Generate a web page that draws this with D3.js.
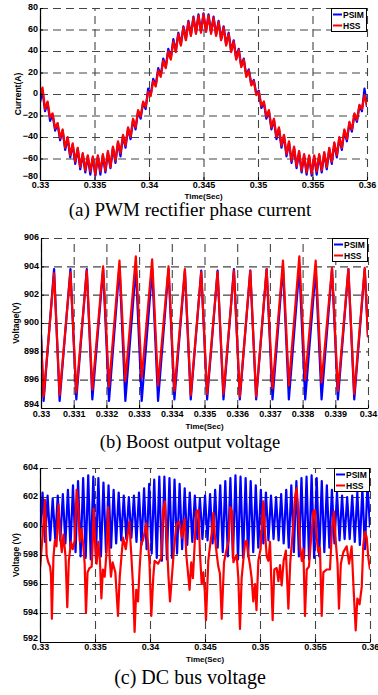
<!DOCTYPE html>
<html>
<head>
<meta charset="utf-8">
<script src="https://cdn.jsdelivr.net/npm/d3@7"></script>
<style>
  body { margin: 0; background: #fff; }
  .tick text { font-family: "Liberation Sans", Arial, sans-serif; font-weight: bold; font-size: 9px; fill: #000; }
  .grid line { stroke: #444; stroke-width: 1.1; stroke-dasharray: 8 5; }
  .grid path { display: none; }
</style>
</head>
<body>
<svg id="chart" width="378" height="695"></svg>
<script>
// uniform sample step of the rippled waveforms (one ripple extreme per sample)
const sampleStep = 0.03 / 130;

// (a) phase current, A
const currentPsim = [
  -8, 3, -16, -8, -25, -19, -34, -28, -43, -34,
  -52, -41, -59, -47, -65, -51, -70, -56, -73, -58,
  -75, -59, -76, -58, -75, -57, -73, -54, -69, -50,
  -64, -45, -58, -39, -50, -32, -42, -24, -33, -16,
  -23, -8, -14, 5, -1, 14, 8, 24, 17, 33,
  25, 42, 33, 51, 40, 57, 46, 63, 51, 68,
  55, 72, 57, 74, 58, 75, 58, 74, 57, 72,
  55, 68, 51, 63, 46, 57, 40, 50, 33, 42,
  26, 33, 17, 23, 9, 13, 0, 3, -13, -8,
  -23, -16, -33, -24, -42, -32, -50, -39, -58, -45,
  -64, -50, -69, -54, -73, -57, -75, -58, -76, -58,
  -75, -57, -73, -55, -70, -51, -65, -46, -59, -41,
  -52, -34, -44, -27, -35, -19, -26, -11, -16, 5,
  -12
];
const currentHss = [
  -1, 6, -14, -7, -22, -18, -32, -27, -41, -33,
  -50, -40, -57, -46, -63, -50, -68, -55, -71, -57,
  -72, -58, -75, -57, -72, -56, -71, -53, -68, -49,
  -62, -44, -55, -38, -48, -31, -40, -23, -31, -15,
  -21, -7, -12, 2, -2, 12, 7, 22, 16, 31,
  24, 40, 32, 49, 39, 56, 45, 62, 50, 67,
  54, 71, 56, 73, 57, 74, 58, 73, 56, 71,
  54, 67, 50, 62, 45, 56, 39, 49, 32, 41,
  25, 32, 16, 22, 8, 12, -1, 2, -11, -7,
  -21, -15, -31, -23, -40, -31, -48, -38, -56, -44,
  -62, -49, -67, -53, -71, -56, -73, -57, -74, -57,
  -72, -56, -71, -54, -68, -50, -63, -45, -57, -40,
  -50, -33, -42, -26, -33, -18, -24, -10, -14, -1,
  -11
];

// (b) boost output voltage, V (troughs and peaks)
const boostTime = [
  0.33, 0.33008, 0.3304, 0.33057, 0.3309, 0.33108, 0.3314, 0.33157, 0.3319, 0.33208,
  0.3324, 0.33258, 0.3329, 0.33308, 0.3334, 0.33358, 0.3339, 0.33408, 0.3344, 0.33458,
  0.3349, 0.33508, 0.3354, 0.33558, 0.3359, 0.33608, 0.3364, 0.33658, 0.3369, 0.33708,
  0.3374, 0.33758, 0.3379, 0.33808, 0.3384, 0.33858, 0.3389, 0.33908, 0.3394, 0.33958,
  0.3399, 0.34
];
const boostPsim = [
  899.2, 894.5, 903.8, 894.5, 903.8, 894.6, 903.8, 894.6, 903.8, 894.5,
  904.0, 894.5, 903.9, 894.5, 903.8, 894.5, 903.8, 894.6, 903.7, 894.6,
  903.7, 894.6, 903.7, 894.6, 903.8, 894.6, 903.7, 894.6, 903.8, 894.6,
  904.0, 894.6, 903.9, 894.6, 903.8, 894.6, 903.8, 894.6, 903.8, 894.6,
  903.8, 899.0
];
const boostHss = [
  898.9, 894.8, 903.5, 894.9, 903.6, 895.1, 903.7, 895.3, 904.0, 895.5,
  904.4, 895.9, 904.7, 896.1, 904.5, 895.6, 904.0, 895.2, 903.8, 894.9,
  903.6, 895.0, 903.6, 895.0, 903.7, 894.8, 903.7, 894.8, 903.8, 895.4,
  904.4, 895.6, 904.7, 896.0, 904.4, 895.8, 903.9, 895.2, 903.8, 895.0,
  903.9, 899.0
];

// (c) DC bus voltage, V
const dcPsim = [
  599.3, 602.3, 598.9, 602.1, 599.0, 601.9, 599.1, 602.1, 599.0, 602.2,
  598.8, 602.5, 598.5, 602.8, 598.2, 603.1, 597.9, 603.3, 597.8, 603.5,
  597.7, 603.4, 597.8, 603.3, 597.9, 603.0, 598.2, 602.8, 598.5, 602.5,
  598.8, 602.3, 599.0, 602.1, 599.1, 602.0, 599.2, 602.1, 598.9, 602.3,
  598.7, 602.6, 598.4, 602.9, 598.1, 603.2, 597.8, 603.4, 597.6, 603.4,
  597.7, 603.3, 597.8, 603.2, 598.1, 602.9, 598.4, 602.6, 598.7, 602.3,
  598.9, 602.1, 599.1, 601.9, 599.1, 602.1, 599.0, 602.2, 598.8, 602.5,
  598.5, 602.8, 598.2, 603.1, 597.9, 603.3, 597.8, 603.5, 597.7, 603.4,
  597.8, 603.3, 597.9, 603.1, 598.2, 602.8, 598.5, 602.5, 598.8, 602.3,
  599.0, 602.1, 599.1, 602.0, 599.0, 602.2, 598.8, 602.5, 598.5, 602.8,
  598.2, 603.1, 597.9, 603.3, 597.8, 603.4, 597.7, 603.5, 597.8, 603.3,
  597.9, 603.1, 598.2, 602.8, 598.5, 602.5, 598.8, 602.3, 599.0, 602.1,
  599.1, 602.0, 599.1, 602.1, 598.9, 602.3, 598.7, 602.6, 598.4, 602.9,
  599.9
];
const dcHss = [
  [0.33, 597.0], [0.33025, 599.5], [0.33045, 601.8], [0.3306, 598.0], [0.33075, 597.5],
  [0.33092, 597.2], [0.331, 596.6], [0.33108, 593.6], [0.33122, 597.8], [0.33135, 599.0],
  [0.3315, 598.6], [0.33168, 601.5], [0.33183, 599.3], [0.33198, 598.2], [0.33213, 599.4],
  [0.33232, 597.9], [0.33248, 594.4], [0.33262, 597.6], [0.33282, 598.9], [0.33298, 598.4],
  [0.33315, 599.0], [0.33333, 602.5], [0.33348, 601.3], [0.33362, 598.9], [0.33378, 599.8],
  [0.33394, 598.6], [0.33406, 597.4], [0.33418, 594.0], [0.33432, 596.8], [0.3345, 597.1],
  [0.3347, 597.2], [0.3348, 599.0], [0.33488, 601.2], [0.335, 599.0],
  [0.33515, 597.4], [0.3353, 598.9], [0.33545, 597.6], [0.33558, 595.0], [0.33572, 597.0],
  [0.33588, 596.5], [0.33605, 598.2], [0.3362, 601.3], [0.33632, 598.0], [0.33645, 596.5],
  [0.3366, 597.5], [0.33685, 596.8], [0.33709, 593.8], [0.33725, 596.5], [0.33755, 599.2],
  [0.3378, 598.4], [0.33812, 600.3], [0.3383, 598.0], [0.33845, 596.0], [0.3386, 592.7],
  [0.33875, 595.6], [0.33891, 594.8], [0.33905, 597.0], [0.3392, 598.8], [0.33936, 599.0],
  [0.33952, 599.6], [0.33965, 600.2], [0.3398, 599.0], [0.33995, 597.5], [0.34012, 593.8],
  [0.3403, 596.5], [0.34042, 597.6], [0.34073, 597.4], [0.34103, 597.8], [0.34118, 601.0],
  [0.34135, 601.7], [0.3415, 599.5], [0.34168, 596.5], [0.34182, 594.8], [0.342, 596.6],
  [0.3422, 598.6], [0.3424, 600.1], [0.34265, 600.3], [0.3429, 599.2], [0.34315, 600.5],
  [0.3433, 598.0], [0.34345, 596.8], [0.3436, 595.6], [0.34375, 597.5], [0.3439, 596.4],
  [0.34405, 598.6], [0.34421, 601.0], [0.3444, 601.1], [0.34455, 598.0], [0.3447, 596.0],
  [0.34485, 596.8], [0.34498, 595.5], [0.34509, 593.5], [0.3453, 597.6], [0.34545, 598.6],
  [0.34561, 599.5], [0.34576, 600.9], [0.34591, 599.2], [0.34606, 598.1], [0.34621, 597.2],
  [0.34636, 596.7], [0.34652, 593.6], [0.34673, 597.5], [0.34697, 598.4], [0.34715, 599.0],
  [0.3473, 601.3], [0.34745, 601.0], [0.34758, 597.5], [0.34775, 597.8], [0.34788, 598.0],
  [0.34803, 596.4], [0.34818, 592.9], [0.34833, 596.4], [0.34848, 597.6], [0.34865, 598.9],
  [0.34879, 599.0], [0.34894, 598.0], [0.34909, 597.3], [0.34924, 596.4], [0.34939, 594.8],
  [0.34955, 596.0], [0.34968, 594.2], [0.34985, 597.6], [0.35005, 598.4], [0.3503, 601.7],
  [0.35045, 599.6], [0.35061, 597.9], [0.35076, 597.6], [0.35091, 598.9], [0.35103, 596.2],
  [0.35115, 593.5], [0.3513, 597.0], [0.35152, 597.1], [0.35167, 596.2], [0.35182, 597.3],
  [0.35197, 595.9], [0.35215, 597.6], [0.35235, 598.3], [0.35258, 594.3], [0.35275, 597.5],
  [0.353, 599.8], [0.35318, 602.0], [0.35333, 602.6], [0.35348, 601.1], [0.35364, 598.6],
  [0.3538, 597.6], [0.35394, 598.4], [0.35409, 593.8], [0.35425, 597.0], [0.35445, 597.2],
  [0.35465, 599.2], [0.35485, 601.0], [0.355, 601.1], [0.35515, 599.2], [0.3553, 598.2],
  [0.35545, 598.5], [0.35561, 593.8], [0.35576, 596.8], [0.35606, 597.0], [0.35636, 597.0],
  [0.35655, 599.8], [0.35672, 601.0], [0.3569, 598.8], [0.35705, 597.4], [0.35718, 594.3],
  [0.35735, 597.4], [0.35758, 598.2], [0.35788, 598.6], [0.3581, 597.4], [0.35833, 598.6],
  [0.35852, 595.5], [0.3587, 592.8], [0.35885, 595.0], [0.35905, 594.6], [0.35925, 595.8],
  [0.35939, 598.7], [0.35955, 599.6], [0.3597, 599.2], [0.35985, 597.8], [0.36, 597.0]
];

const xTicksWide = [0.33, 0.335, 0.34, 0.345, 0.35, 0.355, 0.36];
const xTicksNarrow = [0.33, 0.331, 0.332, 0.333, 0.334, 0.335, 0.336, 0.337, 0.338, 0.339, 0.34];
const currentTicks = [-80, -60, -40, -20, 0, 20, 40, 60, 80];
const boostTicks = [894, 896, 898, 900, 902, 904, 906];
const dcTicks = [592, 594, 596, 598, 600, 602, 604];
const seriesNames = ["PSIM", "HSS"];
const seriesColors = ["#0000ff", "#ff0000"];

const svg = d3.select("#chart");

function drawPanel(p) {
  const x = d3.scaleLinear().domain(p.xDomain).range([p.left, p.right]);
  const y = d3.scaleLinear().domain(p.yDomain).range([p.bottom, p.top]);
  const g = svg.append("g");

  // dashed grid
  g.append("g").attr("class", "grid")
    .attr("transform", "translate(0," + p.bottom + ")")
    .call(d3.axisBottom(x).tickValues(p.xTicks).tickSize(-(p.bottom - p.top)).tickFormat(""));
  g.append("g").attr("class", "grid")
    .attr("transform", "translate(" + p.left + ",0)")
    .call(d3.axisLeft(y).tickValues(p.yTicks).tickSize(-(p.right - p.left)).tickFormat(""));

  // data
  g.append("clipPath").attr("id", p.id + "-clip")
    .append("rect").attr("x", p.left).attr("y", p.top - 1)
    .attr("width", p.right - p.left).attr("height", p.bottom - p.top + 2);
  const line = d3.line().x(d => x(d[0])).y(d => y(d[1]));
  const plot = g.append("g").attr("clip-path", "url(#" + p.id + "-clip)");
  p.series.forEach((s, i) => {
    plot.append("path").datum(s)
      .attr("fill", "none")
      .attr("stroke", seriesColors[i])
      .attr("stroke-width", 2.2)
      .attr("stroke-linejoin", "round")
      .attr("d", line);
  });

  // axes (left and bottom only, ticks inward)
  const xAxis = g.append("g")
    .attr("transform", "translate(0," + p.bottom + ")")
    .call(d3.axisBottom(x).tickValues(p.xTicks).tickSize(-3).tickSizeOuter(0)
      .tickPadding(p.tickPad).tickFormat(d => +d.toFixed(3)));
  const yAxis = g.append("g")
    .attr("transform", "translate(" + p.left + ",0)")
    .call(d3.axisLeft(y).tickValues(p.yTicks).tickSize(-3).tickSizeOuter(0).tickPadding(2));
  // lowest y label sits a little higher so it clears the first time label
  yAxis.selectAll(".tick text").attr("dy", d => d === p.yDomain[0] ? "-0.2em" : "0.2em");
  [xAxis, yAxis].forEach(a => {
    a.select(".domain").attr("stroke", "#000").attr("stroke-width", 1.2);
    a.selectAll(".tick line").attr("stroke", "#000");
  });

  g.append("text")
    .attr("x", (p.left + p.right) / 2).attr("y", p.bottom + p.timeDy)
    .attr("text-anchor", "middle")
    .style("font-family", "'Liberation Sans', Arial, sans-serif")
    .style("font-weight", "bold").style("font-size", "8px")
    .text("Time(Sec)");

  g.append("text")
    .attr("transform", "translate(" + p.yLabelX + "," + (p.top + p.bottom) / 2 + ") rotate(-90)")
    .attr("text-anchor", "middle")
    .style("font-family", "'Liberation Sans', Arial, sans-serif")
    .style("font-weight", "bold").style("font-size", "8.5px")
    .text(p.yLabel);

  // legend
  const lg = g.append("g").attr("transform", "translate(" + (p.right - 36) + "," + p.top + ")");
  lg.append("rect").attr("x", 0.5).attr("y", 0.5).attr("width", 35).attr("height", 23)
    .attr("fill", "#fff").attr("stroke", "#000").attr("stroke-width", 1);
  seriesNames.forEach((name, i) => {
    const ly = 6.5 + i * 11;
    lg.append("line").attr("x1", 2).attr("x2", 11).attr("y1", ly).attr("y2", ly)
      .attr("stroke", seriesColors[i]).attr("stroke-width", 2);
    lg.append("text").attr("x", 12).attr("y", ly + 3)
      .style("font-family", "'Liberation Sans', Arial, sans-serif")
      .style("font-weight", "bold").style("font-size", "8.5px")
      .text(name);
  });

  svg.append("text")
    .attr("x", 190).attr("y", p.titleY)
    .attr("text-anchor", "middle")
    .style("font-family", "'Liberation Serif', 'Times New Roman', serif")
    .style("font-size", p.titleSize + "px")
    .text(p.title);
}

const gridPoints = values => values.map((v, i) => [0.33 + i * sampleStep, v]);

drawPanel({
  id: "a", left: 40, right: 367, top: 8, bottom: 180, tickPad: 2, timeDy: 18.5,
  xDomain: [0.33, 0.36], yDomain: [-80, 80], xTicks: xTicksWide, yTicks: currentTicks,
  series: [gridPoints(currentPsim), gridPoints(currentHss)],
  yLabel: "Current(A)", yLabelX: 21,
  title: "(a) PWM rectifier phase current", titleY: 216, titleSize: 19
});
drawPanel({
  id: "b", left: 41, right: 368, top: 238, bottom: 408, tickPad: 3, timeDy: 20.5,
  xDomain: [0.33, 0.34], yDomain: [894, 906], xTicks: xTicksNarrow, yTicks: boostTicks,
  series: [boostTime.map((t, i) => [t, boostPsim[i]]), boostTime.map((t, i) => [t, boostHss[i]])],
  yLabel: "Voltage(V)", yLabelX: 19,
  title: "(b) Boost output voltage", titleY: 448, titleSize: 18.5
});
drawPanel({
  id: "c", left: 40, right: 370, top: 468, bottom: 642, tickPad: 2, timeDy: 19.5,
  xDomain: [0.33, 0.36], yDomain: [592, 604], xTicks: xTicksWide, yTicks: dcTicks,
  series: [gridPoints(dcPsim), dcHss],
  yLabel: "Voltage (V)", yLabelX: 19,
  title: "(c) DC bus voltage", titleY: 684, titleSize: 20
});
</script>
</body>
</html>
